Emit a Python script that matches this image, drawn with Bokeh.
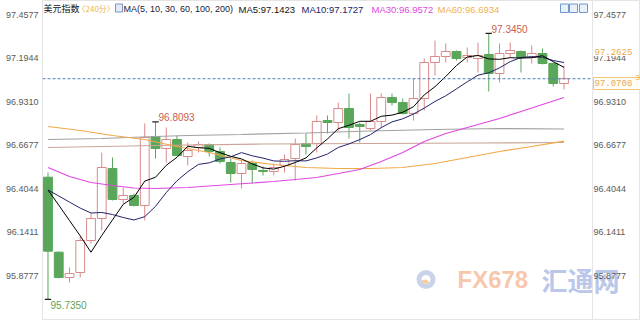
from bokeh.plotting import figure
from bokeh.models import (Range1d, LinearAxis, FixedTicker, PrintfTickFormatter,
                          Span, Label, ColumnDataSource)
from bokeh.embed import file_html
from bokeh.resources import INLINE

# ---------------- data ----------------
idx = list(range(49))
opens = [96.4747, 96.0206, 95.8674, 95.8977, 96.0914, 96.2246, 96.5273, 96.3397, 96.3639, 96.3033,
         96.7211, 96.6484, 96.7029, 96.6000, 96.6545, 96.6726, 96.6302, 96.5637, 96.4971, 96.5576,
         96.5152, 96.5092, 96.5455, 96.5879, 96.6787, 96.6787, 96.8179, 96.8058, 96.8906, 96.7937,
         96.7695, 96.8119, 96.9572, 96.9269, 96.8603, 96.9511, 97.1691, 97.2054, 97.2356, 97.1993,
         97.1933, 97.2175, 97.1025, 97.2235, 97.2356, 97.1993, 97.2235, 97.1630, 97.0419]
highs = [96.5031, 96.0248, 95.9280, 96.1157, 96.2549, 96.6242, 96.5939, 96.4123, 96.3760, 96.8000,
         96.8093, 96.7755, 96.7271, 96.6847, 96.6908, 96.6787, 96.6545, 96.5879, 96.5758, 96.5758,
         96.5394, 96.5576, 96.6121, 96.7089, 96.7392, 96.8482, 96.8482, 96.9269, 96.9814, 96.8058,
         96.9814, 96.9814, 96.9814, 96.9511, 97.0722, 97.1933, 97.3022, 97.2841, 97.2417, 97.2599,
         97.2901, 97.3450, 97.2841, 97.2901, 97.2417, 97.2720, 97.2538, 97.1691, 97.1509]
lows = [95.7350, 95.8614, 95.8372, 95.8674, 96.0733, 96.1520, 96.3336, 96.3154, 96.2973, 96.2125,
        96.5879, 96.5637, 96.6000, 96.5455, 96.6242, 96.6000, 96.5576, 96.4426, 96.4062, 96.4365,
        96.4849, 96.4849, 96.5031, 96.4547, 96.6121, 96.6242, 96.7392, 96.7513, 96.7089, 96.6847,
        96.7574, 96.7755, 96.9087, 96.8543, 96.8179, 96.8785, 97.0903, 97.1691, 97.1812, 97.1691,
        97.1085, 96.9935, 97.0480, 97.1993, 97.1085, 97.1630, 97.1569, 97.0238, 97.0056]
closes = [96.0267, 95.8674, 95.8917, 96.0914, 96.2246, 96.5334, 96.3397, 96.3639, 96.3033, 96.7150,
          96.6484, 96.7029, 96.6060, 96.6363, 96.6726, 96.6302, 96.5697, 96.4971, 96.5576, 96.5213,
          96.5092, 96.5334, 96.5818, 96.6726, 96.6605, 96.8119, 96.8058, 96.8906, 96.7755, 96.7816,
          96.8119, 96.9572, 96.9269, 96.8603, 96.9511, 97.1691, 97.2054, 97.2356, 97.1933, 97.2114,
          97.2114, 97.1025, 97.2235, 97.2417, 97.1993, 97.2235, 97.1630, 97.0419, 97.0708]

ma5 = [96.3972, 96.3058, 96.2125, 96.1193, 96.0204, 96.1217, 96.2162, 96.3106, 96.3530, 96.4511,
       96.4741, 96.5467, 96.5951, 96.6617, 96.6532, 96.6496, 96.6230, 96.6012, 96.5854, 96.5552,
       96.5310, 96.5237, 96.5407, 96.5637, 96.5915, 96.6520, 96.7065, 96.7683, 96.7889, 96.8131,
       96.8131, 96.8434, 96.8506, 96.8676, 96.9015, 96.9729, 97.0226, 97.0843, 97.1509, 97.2030,
       97.2114, 97.1908, 97.1884, 97.1981, 97.1957, 97.1981, 97.2102, 97.1739, 97.1397]
ma10 = [96.3972, 96.3609, 96.3240, 96.2876, 96.2579, 96.2610, 96.2488, 96.2307, 96.2155, 96.2357,
        96.2979, 96.3814, 96.4529, 96.5074, 96.5522, 96.5618, 96.5848, 96.5982, 96.6236, 96.6042,
        96.5903, 96.5733, 96.5709, 96.5746, 96.5733, 96.5915, 96.6151, 96.6545, 96.6763, 96.7023,
        96.7326, 96.7749, 96.8095, 96.8282, 96.8573, 96.8930, 96.9330, 96.9675, 97.0092, 97.0522,
        97.0922, 97.1067, 97.1364, 97.1745, 97.1993, 97.2048, 97.2005, 97.1812, 97.1689]
ma30_x = [0, 2, 4, 6, 8, 10, 13, 17, 21, 25, 27, 29, 31, 33, 35, 37, 40, 42, 44, 46, 48]
ma30 = [96.5334, 96.4789, 96.4426, 96.4244, 96.4093, 96.4062, 96.4123, 96.4305, 96.4486, 96.4728,
        96.4971, 96.5213, 96.5697, 96.6242, 96.6908, 96.7392, 96.7937, 96.8300, 96.8724, 96.9148,
        96.9572]
ma60_x = [0, 3, 6, 9, 12, 15, 18, 21, 24, 27, 30, 33, 36, 39, 42, 45, 48]
ma60 = [96.7816, 96.7574, 96.7271, 96.7029, 96.6605, 96.6242, 96.5758, 96.5515, 96.5334, 96.5273,
        96.5273, 96.5334, 96.5576, 96.5939, 96.6302, 96.6605, 96.6934]
ma100_x = [0, 5, 10, 13, 18, 24, 30, 36, 42, 48]
ma100 = [96.7029, 96.7090, 96.7211, 96.7271, 96.7332, 96.7422, 96.7543, 96.7634, 96.7695, 96.7665]
ma200_x = [0, 10, 20, 30, 40, 48]
ma200 = [96.6545, 96.6666, 96.6757, 96.6787, 96.6817, 96.6847]

y_ticks = [97.4577, 97.1944, 96.9310, 96.6677, 96.4044, 96.1411, 95.8777]
last_price = 97.0708
side_price = 97.2625
hi_label, hi_idx = 97.3450, 41
mid_label, mid_idx = 96.8093, 10
lo_label, lo_idx = 95.7350, 0

title_name = "美元指数"
period = "〈240分〉"
ma_def = "MA(5, 10, 30, 60, 100, 200)"
ma_texts = ["MA5:97.1423", "MA10:97.1727", "MA30:96.9572", "MA60:96.6934"]

# ---------------- layout helpers (pixel -> data, decoration only) ----------------
X0, PXX = -0.5116, 10.75
YT, PYY = 97.5444, 0.006054
H = 320


def X(px):
    return X0 + (px - 42) / PXX


def Y(py):
    return YT - py * PYY


# the frame spans the full width to the right edge; the right price axis is pinned at x=592
p = figure(width=640, height=H, output_backend="svg", toolbar_location=None,
           x_range=Range1d(X(42), X(640)), y_range=Range1d(Y(H), Y(0)),
           x_axis_location=None, min_border_left=42, min_border_right=0,
           min_border_top=0, min_border_bottom=0)
p.grid.visible = False
p.background_fill_color = "white"
p.border_fill_color = "white"
p.outline_line_color = "#e4e4e4"

fmt = PrintfTickFormatter(format="%.4f")
p.yaxis[0].ticker = FixedTicker(ticks=y_ticks)
p.yaxis[0].formatter = fmt
p.yaxis[0].major_label_standoff = 4
raxis = LinearAxis(ticker=FixedTicker(ticks=y_ticks), formatter=fmt, major_label_standoff=1,
                   fixed_location=X(592))
p.add_layout(raxis, "right")
for ax in p.yaxis:
    ax.axis_line_color = None
    ax.major_tick_line_color = None
    ax.minor_tick_line_color = None
    ax.major_tick_in = 0
    ax.major_tick_out = 0
    ax.major_label_text_font = "Liberation Sans"
    ax.major_label_text_font_size = "9px"
    ax.major_label_text_color = "#5a5a5a"

# right edge of the price area
p.add_layout(Span(location=X(592), dimension="height", line_color="#e4e4e4", line_width=1))


def clabel(px, py, text, **kw):
    """Label placed in canvas pixels (py measured from the top)."""
    kw.setdefault("text_baseline", "middle")
    p.add_layout(Label(x=px, y=py, x_units="canvas", y_units="canvas", text=text, **kw))


# ---------------- watermark ----------------
p.annulus(x=[X(425.5)], y=[Y(279)], inner_radius=4.5, outer_radius=9.5,
          inner_radius_units="screen", outer_radius_units="screen",
          fill_color="#b3c1df", fill_alpha=0.7, line_color=None, level="underlay")
p.wedge(x=[X(425.5)], y=[Y(279)], radius=4.5, radius_units="screen", start_angle=3.3,
        end_angle=5.6, fill_color="#f3c08e", fill_alpha=0.8, line_color=None, level="underlay")
clabel(457, 279, "FX678", text_font="Liberation Sans", text_font_style="bold",
       text_font_size="24px", text_color="#f5b48f", text_alpha=0.75, level="underlay")
clabel(541, 279, "汇通网", text_font="Noto Sans CJK SC", text_font_style="bold",
       text_font_size="26px", text_color="#a3b5e3", text_alpha=0.75, level="underlay")

# ---------------- candles ----------------
up = [c >= o for o, c in zip(opens, closes)]
src = ColumnDataSource(dict(
    x=idx, high=highs, low=lows,
    top=[max(o, c) for o, c in zip(opens, closes)],
    bottom=[min(o, c) for o, c in zip(opens, closes)],
    fill=["#ffffff" if u else "#5aa65a" for u in up],
    line=["#d98a8a" if u else "#5aa65a" for u in up],
))
p.segment(x0="x", y0="high", x1="x", y1="low", line_color="line", line_width=1, source=src)
p.vbar(x="x", width=0.82, top="top", bottom="bottom", fill_color="fill",
       line_color="line", line_width=1, source=src)

# ---------------- moving averages ----------------
p.line(ma200_x, ma200, line_color="#c9a497", line_width=1.2)
p.line(ma100_x, ma100, line_color="#a3a0a0", line_width=1.2)
p.line(ma60_x, ma60, line_color="#f0a848", line_width=1.2)
p.line(ma30_x, ma30, line_color="#e048e0", line_width=1.2)
p.line(idx, ma10, line_color="#23236a", line_width=1.0)
p.line(idx, ma5, line_color="#000000", line_width=1.0)

# last price dashed line (across the price area)
p.segment(x0=[X(42)], y0=[last_price], x1=[X(640)], y1=[last_price],
          line_color="#4f7fb8", line_dash="3 2", line_width=1)

# high / low markers
p.segment(x0=[mid_idx - 0.3, hi_idx - 0.3, lo_idx - 0.3], y0=[mid_label, hi_label, lo_label],
          x1=[mid_idx + 0.3, hi_idx + 0.3, lo_idx + 0.3], y1=[mid_label, hi_label, lo_label],
          line_color="#222222", line_width=1.2)
clabel(158, 116, f"{mid_label:.4f}", text_font="Liberation Sans", text_font_size="10px",
       text_color="#c8604c")
clabel(491, 28, f"{hi_label:.4f}", text_font="Liberation Sans", text_font_size="10px",
       text_color="#c8604c")
clabel(50, 304, f"{lo_label:.4f}", text_font="Liberation Sans", text_font_size="10px",
       text_color="#62a25a")

# ---------------- header ----------------
clabel(43, 8, title_name, text_font="Noto Sans CJK SC", text_font_size="9px", text_color="#111111")
clabel(77, 8, period, text_font="Noto Sans CJK SC", text_font_size="8px", text_color="#f0b450")
p.quad(left=[X(115)], right=[X(122)], top=[Y(3.5)], bottom=[Y(11.5)],
       fill_color="#e3ebf6", line_color="#7d93b8", line_width=1)
clabel(123, 8.5, ma_def, text_color="#20203a", text_font="Liberation Sans", text_font_size="9px")
val_font = dict(text_font="Liberation Sans", text_font_size="9.5px")
clabel(238, 8.5, ma_texts[0], text_color="#111111", **val_font)
clabel(301, 8.5, ma_texts[1], text_color="#1c1c64", **val_font)
clabel(371, 8.5, ma_texts[2], text_color="#e048e0", **val_font)
clabel(437, 8.5, ma_texts[3], text_color="#f0b050", **val_font)
for l, r in [(560, 568), (569, 577), (579, 587)]:
    p.quad(left=[X(l)], right=[X(r)], top=[Y(3.5)], bottom=[Y(12)],
           fill_color="#e8f0fb", line_color="#6f98cf", line_width=1)

# ---------------- right side price labels ----------------
clabel(593, 51.5, f"{side_price:.4f}", text_font="Liberation Mono", text_font_size="9px",
       text_color="#e9a94e", background_fill_color="white", padding=1)
clabel(593, 83, f"{last_price:.4f}" + "   ", text_font="Liberation Mono", text_font_size="9px",
       text_color="#e9a94e", background_fill_color="#fffdf6", border_line_color="#f0c27a",
       padding=1)
clabel(635, 77, "3", text_font="Liberation Sans", text_font_size="8px", text_color="#e9a94e")

open("out.html", "w").write(file_html(p, INLINE))
